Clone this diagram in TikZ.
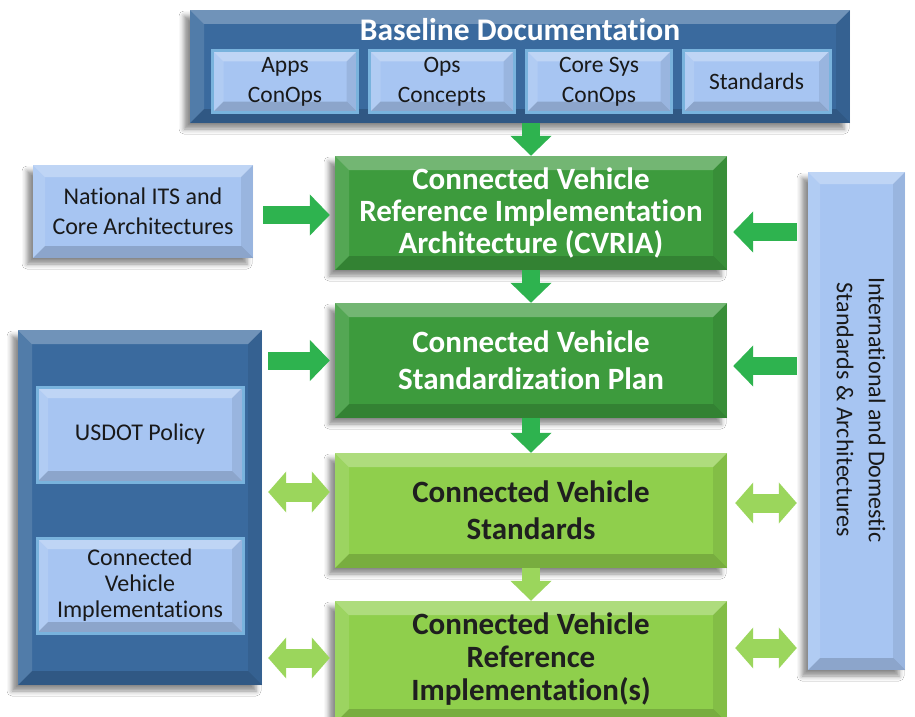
\documentclass[tikz,border=0pt]{standalone}
\usepackage{fontspec}
\setmainfont{Carlito}[Ligatures=NoCommon]
\usetikzlibrary{arrows.meta,shadows.blur,calc}
\definecolor{panelblue}{HTML}{3A6A9E}
\definecolor{lightblue}{HTML}{A7C5F2}
\definecolor{dgreen}{HTML}{3D9B3D}
\definecolor{lgreen}{HTML}{8FCF4C}
\definecolor{arrowdg}{HTML}{2EB34F}
\definecolor{arrowlg}{HTML}{9BD65C}
\definecolor{glowblue}{HTML}{79B3DD}
\newcommand\bevelpic[1]{%
  \path (path picture bounding box.north west) coordinate (bNW)
        (path picture bounding box.north east) coordinate (bNE)
        (path picture bounding box.south west) coordinate (bSW)
        (path picture bounding box.south east) coordinate (bSE);
  \fill[white,opacity=.28] (bNW) -- (bNE) -- ([xshift=-#1,yshift=-#1]bNE) -- ([xshift=#1,yshift=-#1]bNW) -- cycle;
  \fill[white,opacity=.12] (bNW) -- (bSW) -- ([xshift=#1,yshift=#1]bSW) -- ([xshift=#1,yshift=-#1]bNW) -- cycle;
  \fill[black,opacity=.08] (bNE) -- (bSE) -- ([xshift=-#1,yshift=#1]bSE) -- ([xshift=-#1,yshift=-#1]bNE) -- cycle;
  \fill[black,opacity=.16] (bSW) -- (bSE) -- ([xshift=-#1,yshift=#1]bSE) -- ([xshift=#1,yshift=#1]bSW) -- cycle;
}
\tikzset{
  bev/.style={path picture={\bevelpic{#1}}},
  box/.style={rectangle, inner sep=0pt, align=center,
    blur shadow={shadow xshift=-6pt, shadow yshift=-6pt, shadow blur radius=5pt, shadow opacity=45}},
  panel/.style={box, fill=panelblue, bev=14pt},
  lbox/.style={box, fill=lightblue, bev=12pt, text=black!90, font=\fontsize{24}{30}\selectfont},
  inbox/.style={rectangle, inner sep=0pt, align=center, fill=lightblue, bev=11pt,
    draw=glowblue, line width=3pt, text=black!90, font=\fontsize{23.5}{30}\selectfont},
  dgbox/.style={box, fill=dgreen, bev=14pt, text=white, font=\bfseries\fontsize{31}{37}\selectfont},
  lgbox/.style={box, fill=lgreen, bev=14pt, text=black!88, font=\bfseries\fontsize{31}{37}\selectfont},
  darr/.style={draw=arrowdg, line width=18pt, -{Triangle[width=40pt 0,length=20pt 0]}},
  larr/.style={draw=arrowlg, line width=18pt, -{Triangle[width=40pt 0,length=20pt 0]}},
  dblarr/.style={draw=arrowlg, line width=19pt,
    {Triangle[width=40pt 0,length=18pt 0]}-{Triangle[width=40pt 0,length=18pt 0]}},
}
\begin{document}
\begin{tikzpicture}[x=1pt,y=-1pt]
\useasboundingbox[fill=white] (0,0) rectangle (915,717);

% Baseline documentation
\node[panel, minimum width=660pt, minimum height=113pt] (base) at (520,66.5) {};
\node[text=white, font=\bfseries\fontsize{31.5}{36}\selectfont] (basetitle) at (520,30) {Baseline Documentation};
\node[inbox, minimum width=145pt, minimum height=62pt] (apps) at (285,81.5) {Apps\\ConOps};
\node[inbox, minimum width=145pt, minimum height=62pt] (ops) at (442,81.5) {Ops\\Concepts};
\node[inbox, minimum width=145pt, minimum height=62pt] (core) at (599,81.5) {Core Sys\\ConOps};
\node[inbox, minimum width=147pt, minimum height=62pt] (stds) at (756.5,81.5) {Standards};

% Green chain
\node[dgbox, minimum width=392pt, minimum height=114pt, font=\bfseries\fontsize{31}{32}\selectfont] (cvria) at (531,213)
  {Connected Vehicle\\Reference Implementation\\Architecture (CVRIA)};
\node[dgbox, minimum width=392pt, minimum height=115pt] (plan) at (531,360.5)
  {Connected Vehicle\\Standardization Plan};
\node[lgbox, minimum width=392pt, minimum height=115pt] (cvstd) at (531,510.5)
  {Connected Vehicle\\Standards};
\node[lgbox, minimum width=392pt, minimum height=122pt] (cvref) at (531,662)
  {};
\node[text=black!88, font=\bfseries\fontsize{31}{33}\selectfont, align=center] (cvreft) at (531,659)
  {Connected Vehicle\\Reference\\Implementation(s)};

% National ITS
\node[lbox, minimum width=220pt, minimum height=93pt] (nat) at (143,211.5)
  {National ITS and\\Core Architectures};

% Right panel
\node[lbox, minimum width=97pt, minimum height=498pt] (rp) at (856.5,421) {};
\node[rotate=-90, align=center, text=black!90, font=\fontsize{24}{32}\selectfont] (rpt) at (861,410)
  {International and Domestic\\Standards \& Architectures};

% Left panel
\node[panel, minimum width=244pt, minimum height=355pt] (lp) at (140,507.5) {};
\node[inbox, minimum width=206pt, minimum height=95pt, font=\fontsize{24}{26}\selectfont] (usdot) at (140,434.5) {USDOT Policy};
\node[inbox, minimum width=206pt, minimum height=95pt, font=\fontsize{24}{26}\selectfont] (cvimp) at (140,585.5)
  {Connected\\Vehicle\\Implementations};

% Vertical arrows
\draw[darr] (base.south -| cvria.north) -- (cvria.north);
\draw[darr] (cvria.south) -- (plan.north);
\draw[darr] (plan.south) -- (cvstd.north);
\draw[larr] (cvstd.south) -- (cvref.north);

% Horizontal arrows
\draw[darr, shorten <=10pt, shorten >=5pt] (nat.east |- 0,215) -- (cvria.west |- 0,215);
\draw[darr, shorten <=11pt, shorten >=6pt] (rp.west |- 0,232) -- (cvria.east |- 0,232);
\draw[darr, shorten <=6pt, shorten >=5pt] (lp.east |- plan.west) -- (plan.west);
\draw[darr, shorten <=11pt, shorten >=6pt] (rp.west |- 0,366) -- (plan.east |- 0,366);
\draw[dblarr, shorten <=6pt, shorten >=5pt] (lp.east |- 0,492) -- (cvstd.west |- 0,492);
\draw[dblarr, shorten <=11pt, shorten >=8pt] (rp.west |- 0,503) -- (cvstd.east |- 0,503);
\draw[dblarr, shorten <=6pt, shorten >=5pt] (lp.east |- 0,658) -- (cvref.west |- 0,658);
\draw[dblarr, shorten <=11pt, shorten >=8pt] (rp.west |- 0,648) -- (cvref.east |- 0,648);
\end{tikzpicture}
\end{document}
